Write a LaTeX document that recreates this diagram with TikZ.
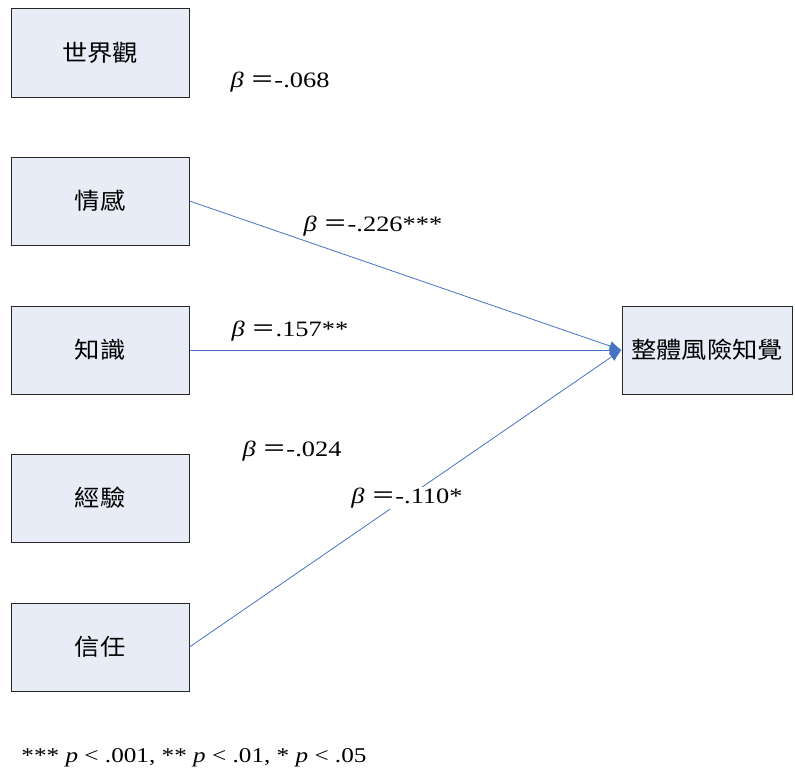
\documentclass[tikz,border=0pt]{standalone}
\usepackage{fontspec}
\setmainfont{Liberation Serif}[FakeStretch=1.2]
\newfontfamily\cjk{Noto Sans CJK TC}[FakeStretch=1.1]
\usetikzlibrary{arrows.meta}
\definecolor{boxfill}{RGB}{231, 236, 246}
\definecolor{pathblue}{RGB}{68, 114, 196}
\newcommand{\bq}{{\itshape β}\ {\cjk ＝}}

\begin{document}
\begin{tikzpicture}[x=1pt, y=-1pt,
		factor/.style={draw=black!85, line width=1pt, fill=boxfill, minimum width=178pt, minimum height=88pt, inner sep=0pt, font=\cjk\fontsize{23}{26}\selectfont},
		coef/.style={inner sep=1pt, font=\fontsize{22}{26}\selectfont},
		path/.style={draw=pathblue, line width=0.8pt, -{Latex[length=12pt, width=10pt]}}]
			\useasboundingbox (0,0) rectangle (795,776);
			% Factors
			\node[factor] (WV) at (100,53) {世界觀};
			\node[factor] (AF) at (100,201) {情感};
			\node[factor] (KN) at (100,350) {知識};
			\node[factor] (EX) at (100,498) {經驗};
			\node[factor] (TR) at (100,647) {信任};
			
			% Outcome
			\node[factor, minimum width=170pt] (RP) at (707,350) {整體風險知覺};
			
			% Paths
			\draw[path] (AF.east) -- (RP.west);
			\draw[path] (KN.east) -- (RP.west);
			\draw[path] (TR.east) -- (RP.west);
			
			% Coefficients
			\node[coef] (bWV) at (280,82) {\bq-.068};
			\node[coef] (bAF) at (373,226) {\bq-.226***};
			\node[coef] (bKN) at (290,331) {\bq.157**};
			\node[coef] (bEX) at (292,451) {\bq-.024};
			\node[coef, fill=white] (bTR) at (407,498) {\bq-.110*};
			
			% Note
			\node[coef, font=\fontsize{21}{25}\selectfont] (note) at (194,758) {*** \textit{p} < .001, ** \textit{p} < .01, * \textit{p} < .05};
		\end{tikzpicture}
\end{document}
